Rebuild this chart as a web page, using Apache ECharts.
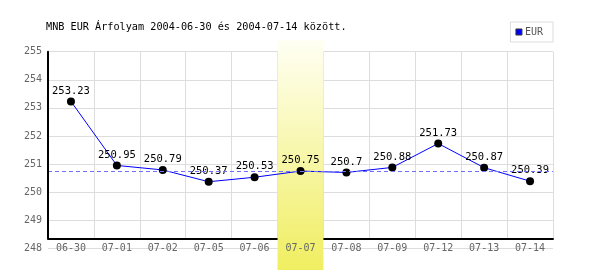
<!DOCTYPE html>
<html>
<head>
<meta charset="utf-8">
<script src="https://cdn.jsdelivr.net/npm/echarts@6/dist/echarts.min.js"></script>
<style>html,body{margin:0;padding:0;background:#fff}#c{width:600px;height:270px}</style>
</head>
<body>
<div id="c"></div>
<script>
const titleText = 'MNB EUR Árfolyam 2004-06-30 és 2004-07-14 között.';
const seriesName = 'EUR';
const categories = ['06-30','07-01','07-02','07-05','07-06','07-07','07-08','07-09','07-12','07-13','07-14'];
const values = [253.23, 250.95, 250.79, 250.37, 250.53, 250.75, 250.7, 250.88, 251.73, 250.87, 250.39];
const highlightDate = '07-07';
const referenceValue = 250.75;
const yMin = 248, yMax = 255, yStep = 1;

const highlightData = categories.map(c => c === highlightDate ? 1 : null);
const mono = 'DejaVu Sans Mono';

const chart = echarts.init(document.getElementById('c'), null, {renderer: 'canvas'});
chart.setOption({
  animation: false,
  backgroundColor: '#fff',
  title: {
    text: titleText, left: 41, top: 17,
    textStyle: {fontFamily: mono, fontSize: 10.2, fontWeight: 'normal', color: '#000'}
  },
  legend: {
    right: 47, top: 22,
    data: [{name: seriesName, icon: 'rect', itemStyle: {color: '#0000ff', borderColor: '#333', borderWidth: 1}}],
    itemWidth: 6, itemHeight: 6, itemGap: 0,
    backgroundColor: '#fff', borderColor: '#ddd', borderWidth: 1, borderRadius: 0,
    padding: [4, 10, 4, 5],
    textStyle: {fontFamily: mono, fontSize: 10, color: '#555', padding: [0,0,0,-2], lineHeight: 12}
  },
  grid: [
    {left: 48, right: 47, top: 51.7, bottom: 21.7},
    {left: 48, right: 47, top: 51.7, bottom: 31.7},
    {left: 48, right: 47, top: 40, bottom: 0}
  ],
  xAxis: [
    {gridIndex: 0, type: 'category', data: categories, z: 5,
     axisLine: {show: false}, axisTick: {show: false}, splitLine: {show: false},
     axisLabel: {margin: 0, verticalAlign: 'middle', fontFamily: mono, fontSize: 10, color: '#666', interval: 0}},
    {gridIndex: 1, type: 'category', data: categories, z: 1,
     axisLine: {show: true, lineStyle: {color: '#000', width: 2}}, axisTick: {show: false},
     axisLabel: {show: false}, splitLine: {show: true, interval: 0, lineStyle: {color: '#ddd', width: 1}}},
    {gridIndex: 2, type: 'category', data: categories, show: false}
  ],
  yAxis: [
    {gridIndex: 0, type: 'value', min: yMin, max: yMax, interval: yStep, z: 0,
     axisLine: {show: false}, axisTick: {show: false},
     axisLabel: {margin: 6, fontFamily: mono, fontSize: 10, color: '#666'},
     splitLine: {show: true, lineStyle: {color: '#ddd', width: 1}}},
    {gridIndex: 1, type: 'value', min: 0, max: 1, z: 5,
     axisLine: {show: true, lineStyle: {color: '#000', width: 2}}, axisTick: {show: false},
     axisLabel: {show: false}, splitLine: {show: false}},
    {gridIndex: 2, type: 'value', min: 0, max: 1, show: false}
  ],
  series: [
    {
      name: 'ref', type: 'line', xAxisIndex: 0, yAxisIndex: 0, data: [], z: 1,
      markLine: {
        silent: true, symbol: 'none', label: {show: false},
        lineStyle: {color: '#7070ff', type: [4, 3], width: 1},
        data: [{yAxis: referenceValue}]
      }
    },
    {
      name: 'highlight', type: 'bar', xAxisIndex: 2, yAxisIndex: 2, data: highlightData, z: 2,
      barWidth: '100%', silent: true,
      itemStyle: {color: new echarts.graphic.LinearGradient(0, 0, 0, 1, [
        {offset: 0, color: '#fffff4'}, {offset: 1, color: '#f0ee60'}
      ])}
    },
    {
      name: seriesName, type: 'line', xAxisIndex: 0, yAxisIndex: 0, data: values, z: 3,
      symbol: 'circle', symbolSize: 8,
      itemStyle: {color: '#000'},
      lineStyle: {color: '#0000ff', width: 1},
      label: {show: true, position: 'top', distance: 1, fontFamily: mono, fontSize: 10.5, color: '#000'}
    }
  ]
});
</script>
</body>
</html>
